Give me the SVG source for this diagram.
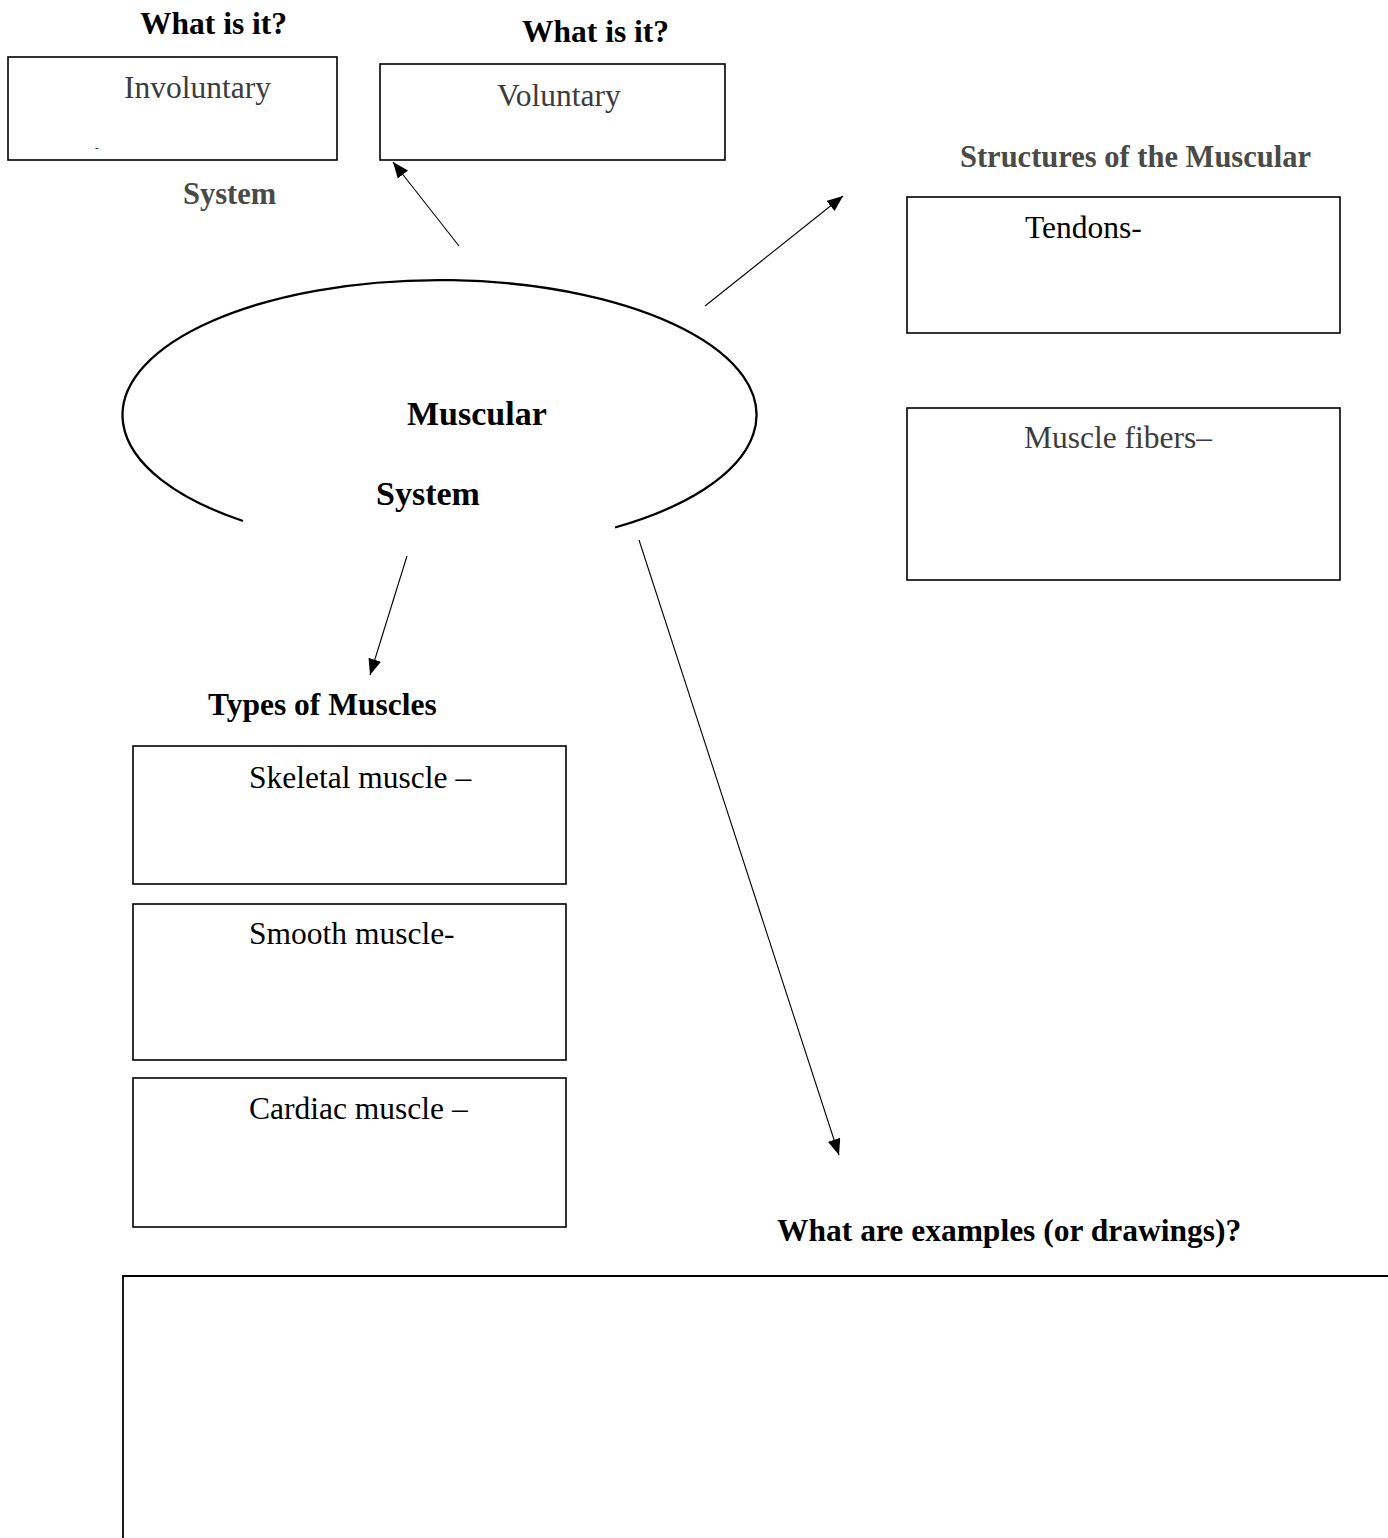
<svg xmlns="http://www.w3.org/2000/svg" width="1388" height="1538" viewBox="0 0 1388 1538">
<style>
.box{fill:#fff;stroke:#000;stroke-width:1.6}
.t{font-family:"Liberation Serif","Times New Roman",serif;font-size:31.5px;fill:#000}
.g{fill:#3c3c3c}
.b{font-weight:bold}
.gb{font-weight:bold;fill:#4a4a46;font-size:30.5px}
.conn{stroke:#000;stroke-width:1.1;fill:none}
</style>
<defs>
<marker id="ah" markerUnits="userSpaceOnUse" markerWidth="18" markerHeight="14" refX="16" refY="6.5" orient="auto">
<path d="M0,0 L16,6.5 L0,13 Z" fill="#000"/>
</marker>
</defs>
<rect width="1388" height="1538" fill="#fff"/>

<g id="label-whatisit-1"><text class="t b" x="140" y="34">What is it?</text></g>
<g id="label-whatisit-2"><text class="t b" x="522" y="42">What is it?</text></g>

<g id="involuntary">
<rect class="box" x="8" y="57" width="329" height="103"/>
<text class="t g" x="124" y="98">Involuntary</text>
<text class="t" x="95" y="151" style="font-size:11px">-</text>
</g>

<g id="voluntary">
<rect class="box" x="380" y="64" width="345" height="96"/>
<text class="t g" x="497" y="106">Voluntary</text>
</g>

<g id="label-system-gray"><text class="t gb" x="183" y="204">System</text></g>
<g id="label-structures"><text class="t gb" x="960" y="167">Structures of the Muscular</text></g>

<g id="tendons">
<rect class="box" x="907" y="197" width="433" height="136"/>
<text class="t" x="1025" y="238">Tendons-</text>
</g>

<g id="muscle-fibers">
<rect class="box" x="907" y="408" width="433" height="172"/>
<text class="t g" x="1024" y="448">Muscle fibers–</text>
</g>

<g id="muscular-system">
<path d="M 243 521 A 317 135 0 1 1 615 527.5" fill="none" stroke="#000" stroke-width="2.3"/>
<text class="t b" x="407" y="425" style="font-size:34px">Muscular</text>
<text class="t b" x="376" y="505" style="font-size:34px">System</text>
</g>

<g id="label-types"><text class="t b" x="208" y="715">Types of Muscles</text></g>

<g id="skeletal">
<rect class="box" x="133" y="746" width="433" height="138"/>
<text class="t" x="249" y="788">Skeletal muscle –</text>
</g>

<g id="smooth">
<rect class="box" x="133" y="904" width="433" height="156"/>
<text class="t" x="249" y="944">Smooth muscle-</text>
</g>

<g id="cardiac">
<rect class="box" x="133" y="1078" width="433" height="149"/>
<text class="t" x="249" y="1119">Cardiac muscle –</text>
</g>

<g id="label-examples"><text class="t b" x="777" y="1241">What are examples (or drawings)?</text></g>

<g id="examples-area">
<path d="M 123 1538 L 123 1276 L 1388 1276" fill="none" stroke="#000" stroke-width="1.8"/>
</g>

<g id="connectors">
<line class="conn" x1="459" y1="246" x2="393" y2="162" marker-end="url(#ah)"/>
<line class="conn" x1="705" y1="306" x2="843" y2="196" marker-end="url(#ah)"/>
<line class="conn" x1="407" y1="556" x2="370" y2="675" marker-end="url(#ah)"/>
<line class="conn" x1="639" y1="540" x2="839" y2="1155" marker-end="url(#ah)"/>
</g>
</svg>
